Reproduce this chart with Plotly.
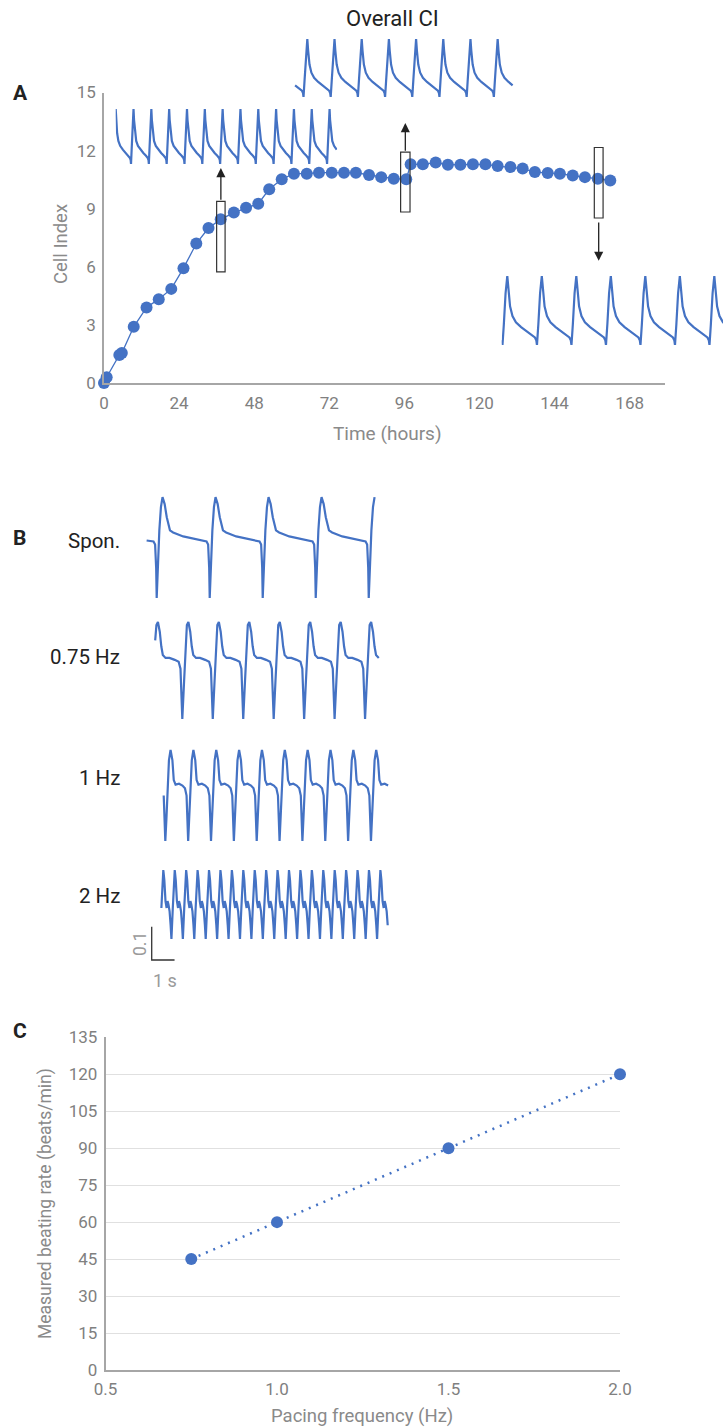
import numpy as np
import plotly.graph_objects as go

W, H = 723, 1428
BLUE = "#4472C4"
TICK_GRAY = "#808080"
TITLE_GRAY = "#8a8a8a"
AXIS_GRAY = "#a6a6a6"
FONT = "Roboto"

# ---------------- Panel A : overall cell index ----------------
ci_time = [0, 0.85, 4.9, 5.7, 9.5, 13.6, 17.5, 21.5, 25.4, 29.5,
           33.4, 37.3, 41.5, 45.4, 49.3, 52.8, 56.8,
           60.7, 64.8, 68.7, 72.8, 76.7, 80.5,
           84.7, 88.6, 92.6, 96.6,
           98.0, 101.9, 106.0, 109.9, 113.9, 117.9, 121.9,
           125.8, 129.9, 133.8, 137.7, 141.8, 145.7, 149.8, 153.7, 157.8, 161.8]
ci_value = [0, 0.3, 1.45, 1.55, 2.9, 3.9, 4.33, 4.86, 5.93, 7.2,
            8.0, 8.45, 8.8, 9.05, 9.26, 10.0, 10.52,
            10.81, 10.81, 10.86, 10.86, 10.86, 10.86,
            10.74, 10.63, 10.55, 10.52,
            11.29, 11.29, 11.38, 11.27, 11.27, 11.29, 11.29,
            11.2, 11.15, 11.07, 10.89, 10.84, 10.81, 10.71, 10.63, 10.55, 10.46]

# sampled windows (hours) and the CI span of the rectangles
snap_t0 = [36.0, 94.8, 156.7]
snap_t1 = [38.7, 97.8, 159.5]
snap_ci_lo = [5.74, 8.83, 8.52]
snap_ci_hi = [9.38, 11.92, 12.16]
# arrows (CI units): tail -> head
arrow_tail = [9.38, 11.92, 8.37]
arrow_head = [11.1, 13.42, 6.31]

a_xticks = [0, 24, 48, 72, 96, 120, 144, 168]
a_yticks = [0, 3, 6, 9, 12, 15]

# impedance beat template (phase from peak, normalised value)
imp_phase = [0, 0.03, 0.08, 0.15, 0.25, 0.40, 0.55, 0.70, 0.80, 0.84, 0.86, 0.90, 0.95, 1.0]
imp_value = [1.0, 0.80, 0.56, 0.42, 0.33, 0.26, 0.20, 0.15, 0.11, 0.07, 0.0, 0.30, 0.75, 1.0]
inset_period = [0.78, 1.19, 1.51]        # s
inset_first_peak = [0.0, 0.64, 0.245]    # s
inset_duration = [9.69, 9.73, 10.3]      # s

# ---------------- Panel B : field potentials ----------------
fp_rows = ["Spon.", "0.75 Hz", "1 Hz", "2 Hz"]
fp_period = [2.32, 1.333, 1.0, 0.5]      # s
fp_ref = [0.468, 0.256, 0.845, 0.613]    # time of a reference trough, s
fp_start = [0.0, 0.35, 0.73, 0.64]
fp_end = [10.02, 10.31, 10.68, 10.6]
fp_amp = [0.303, 0.291, 0.273, 0.207]
fp_phase = [
    [0, 0.025, 0.05, 0.08, 0.11, 0.15, 0.19, 0.25, 0.31, 0.50, 0.81, 0.94, 0.97, 0.99, 1.0],
    [0, 0.06, 0.11, 0.15, 0.20, 0.26, 0.31, 0.36, 0.45, 0.58, 0.75, 0.88, 0.94, 1.0],
    [0, 0.05, 0.10, 0.16, 0.23, 0.31, 0.37, 0.45, 0.60, 0.75, 0.86, 0.93, 1.0],
    [0, 0.12, 0.22, 0.29, 0.38, 0.48, 0.58, 0.66, 0.74, 0.84, 0.93, 1.0],
]
fp_value = [
    [0, 0.35, 0.67, 0.90, 1.0, 0.93, 0.80, 0.67, 0.65, 0.61, 0.57, 0.56, 0.53, 0.30, 0],
    [0, 0.40, 0.81, 0.97, 1.0, 0.90, 0.75, 0.66, 0.63, 0.63, 0.61, 0.59, 0.52, 0],
    [0, 0.25, 0.56, 0.89, 1.0, 0.89, 0.67, 0.62, 0.63, 0.61, 0.58, 0.50, 0],
    [0, 0.45, 0.88, 1.0, 0.85, 0.55, 0.45, 0.55, 0.50, 0.40, 0.20, 0],
]
scale_v = 0.1
scale_t = 1.0

# ---------------- Panel C : beating rate ----------------
pace_hz = [0.75, 1.0, 1.5, 2.0]
rate_bpm = [45, 60, 90, 120]
c_xticks = [0.5, 1.0, 1.5, 2.0]
c_yticks = [0, 15, 30, 45, 60, 75, 90, 105, 120, 135]

# ---------------- layout constants (pixels) ----------------
PX_PER_S = 22.85
A_PX_PER_H = 3.129
FP_UNIT_PX = 333.3
FP_ROW_BASE = [1.161, 0.798, 0.432, 0.138]
INSET_BOX = [(115.7, 109, 164), (292.7, 39, 97), (501.7, 276, 345)]  # left, top, bottom


def xd(px):
    return px / W


def yd(py):
    return 1 - py / H


def tile(phase, value, period, ref, t0, t1):
    xs, ys = [], []
    k = int(np.floor((t0 - ref) / period)) - 1
    while ref + k * period <= t1:
        base = ref + k * period
        for p, v in zip(phase[:-1], value[:-1]):
            t = base + p * period
            if t0 <= t <= t1:
                xs.append(t)
                ys.append(v)
        k += 1
    return xs, ys


fig = go.Figure()
layout = {}

# ---- Panel A main axes
layout["xaxis"] = dict(domain=[xd(104), xd(665)], range=[0, (665 - 104) / A_PX_PER_H],
                       tickvals=a_xticks, showline=True, linecolor=AXIS_GRAY, linewidth=1.5,
                       showgrid=False, zeroline=False, ticks="outside", ticklen=4,
                       tickcolor="rgba(0,0,0,0)", automargin=False,
                       tickfont=dict(size=17, color=TICK_GRAY, family=FONT), anchor="y")
layout["yaxis"] = dict(domain=[yd(383), yd(92.5)], range=[0, 15], tickvals=a_yticks,
                       showline=True, linecolor=AXIS_GRAY, linewidth=1.5, showgrid=False,
                       zeroline=False, ticks="outside", ticklen=3, tickcolor="rgba(0,0,0,0)",
                       automargin=False,
                       tickfont=dict(size=17, color=TICK_GRAY, family=FONT), anchor="x")

# ---- inset traces in panel A
for i in range(3):
    n = i + 2
    left, top, bottom = INSET_BOX[i]
    right = min(W, left + inset_duration[i] * PX_PER_S)
    layout[f"xaxis{n}"] = dict(domain=[xd(left), xd(right)],
                               range=[0, (right - left) / PX_PER_S], visible=False,
                               automargin=False, anchor=f"y{n}")
    layout[f"yaxis{n}"] = dict(domain=[yd(bottom), yd(top)], range=[0, 1], visible=False,
                               automargin=False, anchor=f"x{n}")
    xs, ys = tile(imp_phase, imp_value, inset_period[i], inset_first_peak[i], 0,
                  inset_duration[i])
    fig.add_trace(go.Scatter(x=xs, y=ys, mode="lines", xaxis=f"x{n}", yaxis=f"y{n}",
                             line=dict(color=BLUE, width=2.2), hoverinfo="skip"))

fig.add_trace(go.Scatter(x=ci_time, y=ci_value, mode="lines+markers",
                         line=dict(color=BLUE, width=1.3),
                         marker=dict(color=BLUE, size=12), cliponaxis=False))

shapes = []
annotations = []
for i in range(3):
    shapes.append(dict(type="rect", xref="x", yref="y", x0=snap_t0[i], x1=snap_t1[i],
                       y0=snap_ci_lo[i], y1=snap_ci_hi[i],
                       line=dict(color="#333333", width=1.2)))
    xm = (snap_t0[i] + snap_t1[i]) / 2
    annotations.append(dict(x=xm, y=arrow_head[i], ax=xm, ay=arrow_tail[i], xref="x",
                            yref="y", axref="x", ayref="y", text="", showarrow=True,
                            arrowhead=2, arrowsize=1.4, arrowwidth=1.3,
                            arrowcolor="#222222", standoff=0, startstandoff=0))

# ---- Panel B
layout["xaxis5"] = dict(domain=[xd(140), xd(400)], range=[-6 / PX_PER_S, 254 / PX_PER_S],
                        visible=False, automargin=False, anchor="y5")
layout["yaxis5"] = dict(domain=[yd(985), yd(490)], range=[0, 495 / FP_UNIT_PX],
                        visible=False, automargin=False, anchor="x5")
for i in range(4):
    xs, ys = tile(fp_phase[i], fp_value[i], fp_period[i], fp_ref[i], fp_start[i], fp_end[i])
    ys = [FP_ROW_BASE[i] + fp_amp[i] * v for v in ys]
    fig.add_trace(go.Scatter(x=xs, y=ys, mode="lines", xaxis="x5", yaxis="y5",
                             line=dict(color=BLUE, width=2.2), hoverinfo="skip"))

SB_T0, SB_Y0 = 0.25, 0.075
shapes.append(dict(type="path", xref="x5", yref="y5",
                   path=f"M {SB_T0} {SB_Y0 + scale_v} L {SB_T0} {SB_Y0} L {SB_T0 + scale_t} {SB_Y0}",
                   line=dict(color="#333333", width=1.3)))

row_label_y = [541, 657, 778, 896]
for lab, py in zip(fp_rows, row_label_y):
    annotations.append(dict(x=xd(122), y=yd(py), xref="paper", yref="paper", text=lab,
                            showarrow=False, xanchor="right", yanchor="middle",
                            font=dict(size=20.5, color="#222222", family=FONT)))
annotations.append(dict(x=xd(140), y=yd(944), xref="paper", yref="paper", text="0.1",
                        textangle=-90, showarrow=False, xanchor="center", yanchor="middle",
                        font=dict(size=17.5, color="#9a9a9a", family=FONT)))
annotations.append(dict(x=xd(165), y=yd(980), xref="paper", yref="paper", text="1 s",
                        showarrow=False, xanchor="center", yanchor="middle",
                        font=dict(size=18, color="#9a9a9a", family=FONT)))

# ---- Panel C
layout["xaxis6"] = dict(domain=[xd(105.5), xd(620)], range=[0.5, 2.0], tickvals=c_xticks,
                        tickformat=".1f", showline=True, linecolor=AXIS_GRAY, linewidth=2,
                        showgrid=False, zeroline=False, ticks="outside", ticklen=3,
                        tickcolor="rgba(0,0,0,0)", automargin=False,
                        tickfont=dict(size=17, color=TICK_GRAY, family=FONT), anchor="y6")
layout["yaxis6"] = dict(domain=[yd(1370), yd(1037.3)], range=[0, 135], tickvals=c_yticks,
                        showline=True, linecolor=AXIS_GRAY, linewidth=1.5, showgrid=True,
                        gridcolor="#e0e0e0", gridwidth=1, zeroline=False, ticks="outside",
                        ticklen=3, tickcolor="rgba(0,0,0,0)", automargin=False,
                        tickfont=dict(size=17, color=TICK_GRAY, family=FONT), anchor="x6")
fig.add_trace(go.Scatter(x=pace_hz, y=rate_bpm, mode="lines+markers", xaxis="x6", yaxis="y6",
                         line=dict(color=BLUE, width=2.5, dash="2px,6px"),
                         marker=dict(color=BLUE, size=12), cliponaxis=False))


# ---- texts
def txt(s, px, py, size=17, color=TITLE_GRAY, bold=False, angle=0):
    annotations.append(dict(x=xd(px), y=yd(py), xref="paper", yref="paper",
                            text=f"<b>{s}</b>" if bold else s, showarrow=False,
                            xanchor="center", yanchor="middle", textangle=angle,
                            font=dict(size=size, color=color, family=FONT)))


txt("Overall CI", 392, 19, size=22, color="#222222")
txt("A", 20, 93, size=21, color="#222222", bold=True)
txt("B", 19, 538, size=21, color="#222222", bold=True)
txt("C", 20, 1031, size=21, color="#222222", bold=True)
txt("Cell Index", 61, 244, size=18.5, angle=-90)
txt("Time (hours)", 387, 433, size=19)
txt("Measured beating rate (beats/min)", 45, 1204, size=17.5, angle=-90)
txt("Pacing frequency (Hz)", 362, 1416, size=18.5)

fig.update_layout(width=W, height=H, autosize=False, margin=dict(l=0, r=0, t=0, b=0, pad=0),
                  paper_bgcolor="white", plot_bgcolor="rgba(0,0,0,0)", showlegend=False,
                  shapes=shapes, annotations=annotations, font=dict(family=FONT), **layout)

fig.write_html("out.html", config={"displayModeBar": False},
               post_script="document.body.style.margin='0px';"
                           "document.body.style.overflow='hidden';")
